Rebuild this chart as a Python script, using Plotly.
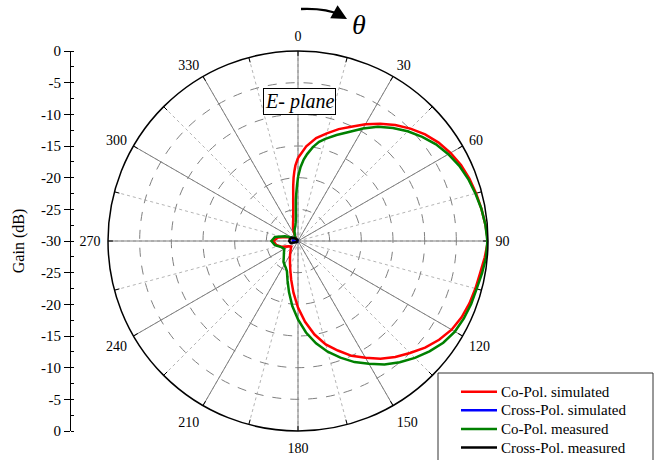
import plotly.graph_objects as go

W, H = 661, 460
FONT = "Liberation Serif"

# ---- data (gain in dB vs angle theta in degrees) ----
theta_sim = [0, 5, 10, 15, 20, 25, 30, 35, 40, 45, 50, 55, 60, 65, 70, 75, 80, 85, 90,
             95, 100, 105, 110, 115, 120, 125, 130, 135, 140, 145, 150, 155, 160, 165,
             170, 175, 180, 185, 190, 195, 200, 205, 210, 220, 230, 240, 250, 260, 270,
             280, 290, 300, 310, 320, 330, 335, 340, 345, 348, 351, 353, 354, 355, 356,
             357, 358, 360]
copol_sim = [-16.9, -15.0, -13.5, -12.4, -11.2, -10.1, -8.7, -7.4, -6.1, -4.9, -3.8, -2.9,
             -2.2, -1.6, -1.2, -0.9, -0.6, -0.3, 0.0,
             -0.4, -0.8, -1.0, -1.2, -1.5, -2.0, -2.8, -3.8, -5.0, -6.1, -7.3, -8.7,
             -10.0, -11.6, -13.1, -15.0, -17.2, -19.5, -21.8, -23.8, -25.3, -26.3, -27.0,
             -27.5, -28.2, -28.6, -28.3, -27.3, -26.5, -26.1, -26.8, -28.2, -29.3, -29.6,
             -29.5, -29.0, -28.4, -27.7, -27.0, -26.4, -25.2, -23.8, -22.8, -21.3, -20.0,
             -19.0, -18.1, -16.9]

theta_meas = [0, 2, 4, 6, 9, 12, 15, 20, 25, 30, 35, 40, 45, 50, 55, 60, 65, 70, 75, 80,
              85, 90, 95, 100, 105, 110, 115, 120, 125, 130, 135, 140, 145, 150, 155, 160,
              165, 170, 175, 180, 185, 190, 195, 200, 205, 210, 215, 220, 230, 240, 250,
              260, 270, 280, 290, 300, 310, 320, 330, 340, 345, 350, 353, 355, 356, 357,
              358, 359, 360]
copol_meas = [-19.9, -18.3, -17.1, -16.2, -15.0, -14.0, -13.3, -12.2, -11.0, -9.5, -8.0,
              -6.7, -5.5, -4.4, -3.4, -2.6, -1.9, -1.4, -1.0, -0.6, -0.3, -0.1,
              -0.2, -0.5, -0.8, -0.9, -1.1, -1.4, -2.0, -2.9, -3.9, -5.0, -6.2, -7.6,
              -8.9, -10.4, -11.9, -13.6, -15.5, -17.6, -19.7, -21.8, -23.6, -24.9, -25.4,
              -25.7, -26.0, -26.5, -27.1, -27.5, -27.2, -26.3, -25.8, -26.3, -27.8, -29.0,
              -29.4, -29.4, -29.0, -28.4, -28.0, -27.6, -27.0, -26.2, -25.0, -23.5, -22.4,
              -21.2, -19.9]

theta_x = [0, 30, 60, 90, 120, 150, 180, 210, 225, 240, 255, 270, 285, 300, 315, 330, 345, 360]
xpol_sim = [-30, -30, -30, -30, -30, -30, -30, -30, -29.9, -29.8, -29.4, -29.2, -29.2,
            -29.4, -29.7, -29.9, -30, -30]
xpol_meas = [-30, -30, -30, -30, -30, -30, -30, -30, -29.9, -29.6, -28.8, -28.6, -28.7,
             -28.9, -29.4, -29.8, -30, -30]

series_names = ["Co-Pol. simulated", "Cross-Pol. simulated",
                "Co-Pol. measured", "Cross-Pol. measured"]
series_colors = ["#ff0000", "#0000ff", "#008000", "#000000"]

angle_ticks = list(range(0, 360, 15))
angle_labels = [str(a) if a % 30 == 0 else "" for a in angle_ticks]
major_spokes = list(range(0, 360, 30))

gain_tickvals = list(range(-30, 31, 5))
gain_ticktext = [str(abs(v) - 30) for v in gain_tickvals]

px = lambda x: x / W
py = lambda y: 1 - y / H

fig = go.Figure()

# major spokes (grid)
sp_t, sp_r = [], []
for a in major_spokes:
    sp_t += [a, a, None]
    sp_r += [-30, 0, None]
fig.add_trace(go.Scatterpolar(r=sp_r, theta=sp_t, mode="lines",
                              line=dict(color="#7f7f7f", width=1),
                              showlegend=False, hoverinfo="skip"))
# inner tick marks on the outer circle every 15 degrees
tk_t, tk_r = [], []
for a in angle_ticks:
    tk_t += [a, a, None]
    tk_r += [-0.8, 0, None]
fig.add_trace(go.Scatterpolar(r=tk_r, theta=tk_t, mode="lines",
                              line=dict(color="black", width=1),
                              showlegend=False, hoverinfo="skip"))

series_data = [(theta_sim, copol_sim), (theta_x, xpol_sim),
               (theta_meas, copol_meas), (theta_x, xpol_meas)]
for name, col, (th, rr) in zip(series_names, series_colors, series_data):
    fig.add_trace(go.Scatterpolar(r=rr, theta=th, mode="lines", name=name,
                                  line=dict(color=col, width=2.5), showlegend=False))

# dummy trace for the left linear gain axis
fig.add_trace(go.Scatter(x=[0], y=[0], mode="markers", marker=dict(opacity=0),
                         showlegend=False, hoverinfo="skip", xaxis="x", yaxis="y"))

fig.update_layout(
    width=W, height=H,
    margin=dict(l=0, r=0, t=0, b=0),
    paper_bgcolor="white", plot_bgcolor="white",
    font=dict(family=FONT, size=14, color="black"),
    showlegend=False,
    polar=dict(
        domain=dict(x=[px(108), px(488)], y=[py(431), py(51)]),
        bgcolor="white",
        radialaxis=dict(range=[-30, 0], tickvals=[-25, -20, -15, -10, -5],
                        showticklabels=False, ticks="", showline=False,
                        gridcolor="#808080", griddash="dash", gridwidth=1),
        angularaxis=dict(rotation=90, direction="clockwise",
                         tickvals=angle_ticks, ticktext=angle_labels,
                         ticks="outside", ticklen=4, tickcolor="rgba(0,0,0,0)",
                         showline=True, linecolor="black", linewidth=1.5,
                         gridcolor="#b5b5b5", griddash="dot", gridwidth=1,
                         tickfont=dict(family=FONT, size=14, color="black")),
    ),
    xaxis=dict(domain=[px(71), px(75)], visible=False, range=[-1, 1]),
    yaxis=dict(domain=[py(431), py(51)], range=[-30, 30], anchor="x", side="left",
               tickvals=gain_tickvals, ticktext=gain_ticktext,
               ticks="outside", ticklen=6, tickcolor="black", tickwidth=1,
               showline=True, linecolor="black", linewidth=1,
               showgrid=False, zeroline=False, automargin=False,
               tickfont=dict(family=FONT, size=15, color="black"),
               minor=dict(dtick=2.5, ticks="inside", ticklen=3, tickcolor="black",
                          showgrid=False),
               title=dict(text="Gain (dB)", font=dict(family=FONT, size=16),
                          standoff=12)),
)

# legend box (drawn, extends past the bottom edge like the original)
fig.add_shape(type="rect", xref="paper", yref="paper",
              x0=px(438), x1=px(653), y0=py(475), y1=py(373),
              line=dict(color="#333333", width=1), fillcolor="white", layer="above")
row_y = [391.7, 410.3, 428.9, 447.5]
for name, col, yy in zip(series_names, series_colors, row_y):
    fig.add_shape(type="line", xref="paper", yref="paper",
                  x0=px(461), x1=px(497), y0=py(yy), y1=py(yy),
                  line=dict(color=col, width=2.5), layer="above")
    fig.add_annotation(x=px(499), y=py(yy), xref="paper", yref="paper",
                       xanchor="left", yanchor="middle", text=name, showarrow=False,
                       font=dict(family=FONT, size=15, color="black"))

fig.add_annotation(x=px(299), y=py(101.5), xref="paper", yref="paper",
                   xanchor="center", yanchor="middle",
                   text="<i>E- plane</i>", showarrow=False,
                   font=dict(family=FONT, size=20, color="black"),
                   bordercolor="black", borderwidth=1, borderpad=1, bgcolor="white")
fig.add_annotation(x=px(359), y=py(24), xref="paper", yref="paper",
                   xanchor="center", yanchor="middle",
                   text="<i>θ</i>", showarrow=False,
                   font=dict(family=FONT, size=28, color="black"))
fig.add_shape(type="path", xref="paper", yref="paper",
              path=f"M {px(301)} {py(9)} Q {px(326)} {py(8)} {px(340)} {py(15)}",
              line=dict(color="black", width=2.5))
fig.add_annotation(x=px(347), y=py(19), xref="paper", yref="paper",
                   ax=-9, ay=-5, text="", showarrow=True,
                   arrowhead=2, arrowsize=1.2, arrowwidth=2.5, arrowcolor="black")

fig.write_html("out.html")
